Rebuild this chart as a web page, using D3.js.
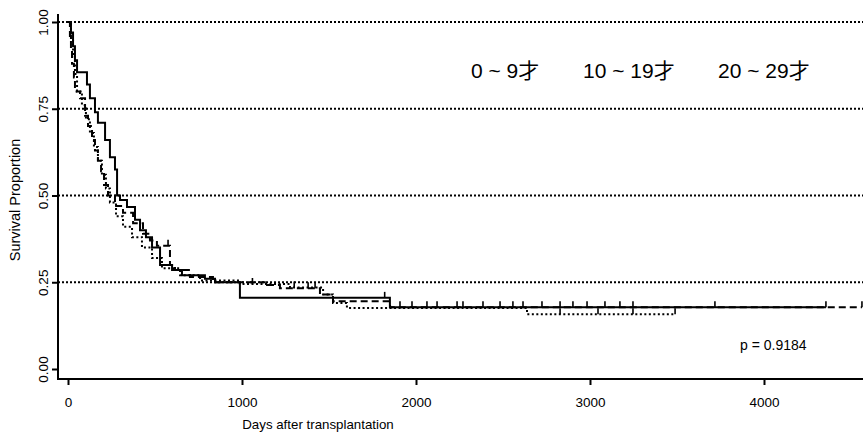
<!DOCTYPE html>
<html>
<head>
<meta charset="utf-8">
<script src="https://cdn.jsdelivr.net/npm/d3@7"></script>
<style>
  body { margin: 0; background: #fff; }
  text { font-family: "Liberation Sans", Arial, "Noto Sans CJK JP", sans-serif; fill: #000; }
</style>
</head>
<body>
<svg id="chart" width="863" height="433"></svg>
<script>
// age groups shown in the legend
const groups = ["0 ~ 9才", "10 ~ 19才", "20 ~ 29才"];

// group 1 (solid): step times (days) and survival after each step
const solidTime = [0, 17, 29, 40, 52, 109, 126, 155, 172, 213, 241, 270, 282, 299, 339, 385, 414, 448, 483, 529, 598, 655, 787, 845, 988, 1850];
const solidSurv = [1.0, 0.97, 0.93, 0.89, 0.855, 0.82, 0.78, 0.74, 0.71, 0.66, 0.61, 0.575, 0.50, 0.487, 0.467, 0.43, 0.40, 0.38, 0.35, 0.30, 0.285, 0.27, 0.26, 0.25, 0.205, 0.178];
const solidEnd = 4356;
const solidCensor = [1820, 1908, 2063, 2236, 2385, 2557, 2724, 2902, 3172, 3718, 4356];

// group 2 (dashed)
const dashTime = [0, 11, 17, 23, 34, 40, 69, 98, 115, 138, 155, 172, 190, 207, 230, 270, 316, 374, 431, 471, 511, 586, 615, 701, 833, 1144, 1218, 1448, 1523, 1851];
const dashSurv = [1.0, 0.96, 0.92, 0.88, 0.84, 0.80, 0.78, 0.73, 0.70, 0.66, 0.63, 0.60, 0.57, 0.53, 0.50, 0.47, 0.45, 0.42, 0.39, 0.37, 0.355, 0.30, 0.285, 0.265, 0.25, 0.242, 0.233, 0.215, 0.195, 0.178];
const dashEnd = 4563;
const dashCensor = [575, 1380, 1420, 1977, 2121, 2270, 2483, 2615, 2828, 2983, 3086, 3247, 4563];

// group 3 (dotted)
const dotTime = [0, 17, 29, 40, 52, 80, 103, 126, 149, 172, 195, 218, 241, 276, 316, 368, 425, 483, 540, 644, 759, 988, 1276, 1466, 1523, 1603, 2638];
const dotSurv = [1.0, 0.95, 0.90, 0.85, 0.80, 0.76, 0.72, 0.68, 0.64, 0.60, 0.56, 0.52, 0.48, 0.44, 0.41, 0.38, 0.35, 0.32, 0.29, 0.27, 0.255, 0.245, 0.235, 0.215, 0.19, 0.176, 0.158];
const dotEnd = 3489;
const dotCensor = [1060, 1300, 2828, 3046, 3247, 3489];

const xTicks = [0, 1000, 2000, 3000, 4000];
const yTicks = [0, 0.25, 0.5, 0.75, 1];
const refLevels = [0.25, 0.5, 0.75, 1];
const pLabel = "p = 0.9184";

const series = [
  { time: solidTime, surv: solidSurv, end: solidEnd, censor: solidCensor, dash: null },
  { time: dashTime, surv: dashSurv, end: dashEnd, censor: dashCensor, dash: "7,4" },
  { time: dotTime, surv: dotSurv, end: dotEnd, censor: dotCensor, dash: "2,2.5" }
];

const svg = d3.select("#chart");
const x = d3.scaleLinear().domain([0, 4569]).range([68, 863]);
const y = d3.scaleLinear().domain([0, 1]).range([369, 22]);

// dotted reference lines
svg.append("g").selectAll("line")
  .data(refLevels)
  .join("line")
  .attr("x1", 58).attr("x2", 863)
  .attr("y1", d => y(d)).attr("y2", d => y(d))
  .attr("stroke", "#000").attr("stroke-width", 2)
  .attr("stroke-dasharray", "2,2");

// axes
const xAxis = g => g
  .attr("transform", "translate(0,379)")
  .call(d3.axisBottom(x).tickValues(xTicks).tickSize(6).tickPadding(12).tickFormat(d3.format("d")))
  .call(g => g.select(".domain").remove())
  .call(g => g.selectAll(".tick line").attr("stroke-width", 2))
  .call(g => g.selectAll(".tick text").attr("font-size", 13.5).attr("font-family", null));

const yAxis = g => g
  .attr("transform", "translate(58,0)")
  .call(d3.axisLeft(y).tickValues(yTicks).tickSize(6).tickFormat(d3.format(".2f")))
  .call(g => g.select(".domain").remove())
  .call(g => g.selectAll(".tick line").attr("stroke-width", 2))
  .call(g => g.selectAll(".tick text")
    .attr("font-size", 13.5).attr("font-family", null)
    .attr("x", null).attr("dy", null)
    .attr("text-anchor", "middle")
    .attr("transform", "translate(-10,0) rotate(-90)"));

svg.append("g").call(xAxis);
svg.append("g").call(yAxis);

svg.append("line").attr("x1", 58).attr("x2", 58).attr("y1", 14).attr("y2", 380)
  .attr("stroke", "#000").attr("stroke-width", 2);
svg.append("line").attr("x1", 57).attr("x2", 863).attr("y1", 379).attr("y2", 379)
  .attr("stroke", "#000").attr("stroke-width", 2);

// survival curves
const line = d3.line().x(d => x(d[0])).y(d => y(d[1])).curve(d3.curveStepAfter);

series.forEach(s => {
  const pts = s.time.map((t, i) => [t, s.surv[i]]);
  pts.push([s.end, s.surv[s.surv.length - 1]]);
  svg.append("path")
    .datum(pts)
    .attr("d", line)
    .attr("fill", "none")
    .attr("stroke", "#000")
    .attr("stroke-width", 2)
    .attr("stroke-dasharray", s.dash);

  const survAt = t => s.surv[d3.bisectRight(s.time, t) - 1];
  svg.append("g").selectAll("line")
    .data(s.censor)
    .join("line")
    .attr("x1", d => x(d)).attr("x2", d => x(d))
    .attr("y1", d => y(survAt(d))).attr("y2", d => y(survAt(d)) - 6)
    .attr("stroke", "#000").attr("stroke-width", 1.6);
});

// legend text
const legendX = [471, 583, 718];
svg.append("g").selectAll("text")
  .data(groups)
  .join("text")
  .attr("x", (d, i) => legendX[i])
  .attr("y", 78)
  .attr("font-size", 21)
  .text(d => d);

svg.append("text").attr("x", 740).attr("y", 350).attr("font-size", 14).text(pLabel);

// axis titles
svg.append("text").attr("x", 318).attr("y", 429).attr("text-anchor", "middle")
  .attr("font-size", 13.3).text("Days after transplantation");
svg.append("text").attr("transform", "translate(20,200) rotate(-90)").attr("text-anchor", "middle")
  .attr("font-size", 14.5).text("Survival Proportion");
</script>
</body>
</html>
